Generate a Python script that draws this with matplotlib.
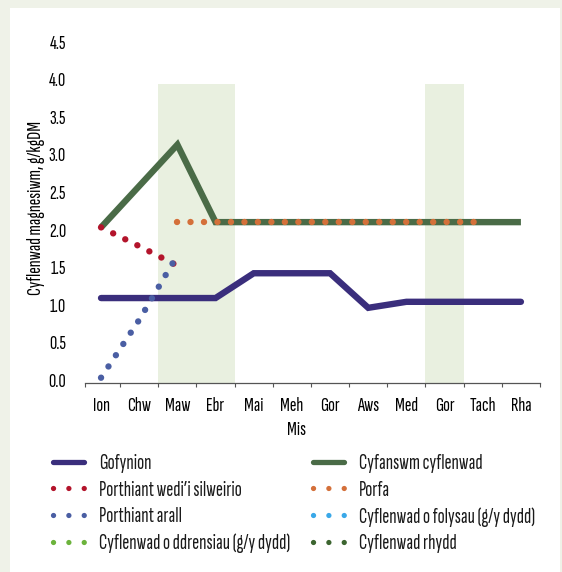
import numpy as np
import matplotlib
matplotlib.use("Agg")
import matplotlib.pyplot as plt
from matplotlib.patches import Rectangle
from matplotlib.lines import Line2D

plt.rcParams['font.family'] = ['Sofia Sans Extra Condensed', 'DejaVu Sans']
plt.rcParams['text.color'] = '#1a1a1a'

# Data (g/kgDM)
misoedd = ['Ion', 'Chw', 'Maw', 'Ebr', 'Mai', 'Meh', 'Gor', 'Aws', 'Med', 'Gor', 'Tach', 'Rha']
gofynion = [1.09, 1.09, 1.09, 1.09, 1.42, 1.42, 1.42, 0.96, 1.04, 1.04, 1.04, 1.04]
cyfanswm = [2.03, 2.58, 3.13, 2.10, 2.10, 2.10, 2.10, 2.10, 2.10, 2.10, 2.10, 2.10]
silwair = [2.03, 1.78, 1.52, None, None, None, None, None, None, None, None, None]
porfa = [None, None, 2.10, 2.10, 2.10, 2.10, 2.10, 2.10, 2.10, 2.10, 2.10, None]
arall = [0.03, 0.80, 1.66, None, None, None, None, None, None, None, None, None]
folysau = []
drensiau = []
rhydd = []

# cyfnodau wedi'u lliwio (ffiniau misoedd)
cyfnodau = [(1.5, 3.5), (8.5, 9.5)]
uchder_cyfnod = 3.94

def arr(v):
    return np.array([np.nan if a is None else a for a in v], dtype=float)

x = np.arange(len(misoedd))

fig = plt.figure(figsize=(5.62, 5.72), dpi=100)
fig.patch.set_facecolor('#eff2e8')
fig.patches.append(Rectangle((10 / 562, 0), 550 / 562, 564 / 572,
                             transform=fig.transFigure, facecolor='white',
                             edgecolor='none', zorder=-10))

ax = fig.add_axes([85 / 562, 1 - 383 / 572, 455 / 562, 341.3 / 572])
ax.set_facecolor('none')
ax.set_xlim(-0.42, 11.5)
ax.set_ylim(-0.04, 4.5)

for a, b in cyfnodau:
    ax.fill_between([a, b], -0.04, uchder_cyfnod, color='#e9f0e0', lw=0, zorder=0)

lw = 4.6
dots = (0, (0.01, 2.1))
ax.plot(x, arr(gofynion), color='#3a2e7c', lw=lw, solid_capstyle='round',
        solid_joinstyle='miter', zorder=2)
ax.plot(x, arr(cyfanswm), color='#4a6b47', lw=lw, solid_capstyle='butt',
        solid_joinstyle='miter', zorder=2)
ax.plot(x, arr(silwair), color='#b3142b', lw=lw, ls=dots, dash_capstyle='round', zorder=3)
ax.plot(x, arr(arall), color='#4a5ea3', lw=lw, ls=dots, dash_capstyle='round', zorder=3)
ax.plot(x, arr(porfa), color='#d4703a', lw=lw, ls=dots, dash_capstyle='round', zorder=3)
ax.plot(x[:len(folysau)], folysau, color='#3aa8e8', lw=lw, ls=dots)
ax.plot(x[:len(drensiau)], drensiau, color='#6cb33c', lw=lw, ls=dots)
ax.plot(x[:len(rhydd)], rhydd, color='#3c6530', lw=lw, ls=dots)

# echelinau
fs = 14.5
for s in ['top', 'right', 'left']:
    ax.spines[s].set_visible(False)
ax.spines['bottom'].set_color('#555555')
ax.spines['bottom'].set_linewidth(0.9)
ax.set_xticks(x)
ax.set_xticklabels(misoedd)
ax.set_xticks([-0.42] + list(np.arange(0.5, 11.5, 1.0)) + [11.5], minor=True)
ax.tick_params(axis='x', which='major', length=0, pad=10, labelsize=fs)
ax.tick_params(axis='x', which='minor', length=3, width=0.8, color='#555555', direction='out')
ax.set_yticks(np.arange(0, 4.51, 0.5))
ax.set_yticklabels([f"{v:.1f}" for v in np.arange(0, 4.51, 0.5)])
ax.tick_params(axis='y', length=0, pad=19 * 0.72, labelsize=fs)

ax.set_ylabel("Cyflenwad magnesiwm, g/kgDM", fontsize=fs)
ax.yaxis.set_label_coords((36 - 85) / 455, (383 - 208) / 341.3)
ax.yaxis.label.set_va('center')
ax.set_xlabel("Mis", fontsize=fs)
ax.xaxis.set_label_coords((297 - 85) / 455, (383 - 430) / 341.3)
ax.xaxis.label.set_va('center')

# allwedd (dwy golofn)
lfs = 15.2
ldots = (0, (0.01, 2.9))
llw = 3.8
def dotted(c):
    return Line2D([], [], color=c, lw=llw, ls=ldots, dash_capstyle='round')

col1 = [Line2D([], [], color='#3a2e7c', lw=llw, solid_capstyle='round'),
        dotted('#b3142b'), dotted('#4a5ea3'), dotted('#6cb33c')]
lab1 = ["Gofynion", "Porthiant wedi\u2019i silweirio", "Porthiant arall",
        "Cyflenwad o ddrensiau (g/y dydd)"]
col2 = [Line2D([], [], color='#4a6b47', lw=llw, solid_capstyle='round'),
        dotted('#d4703a'), dotted('#3aa8e8'), dotted('#3c6530')]
lab2 = ["Cyfanswm cyflenwad", "Porfa", "Cyflenwad o folysau (g/y dydd)", "Cyflenwad rhydd"]
opts = dict(loc='upper left', frameon=False, fontsize=lfs, borderpad=0, borderaxespad=0,
            handlelength=31 / (lfs / 0.72), handletextpad=15 / (lfs / 0.72), labelspacing=0.36)
fig.legend(col1, lab1, bbox_to_anchor=(53 / 562, 1 - 454 / 572), **opts)
fig.legend(col2, lab2, bbox_to_anchor=(313 / 562, 1 - 454 / 572), **opts)

fig.savefig("out.png", dpi=100, facecolor=fig.get_facecolor())
